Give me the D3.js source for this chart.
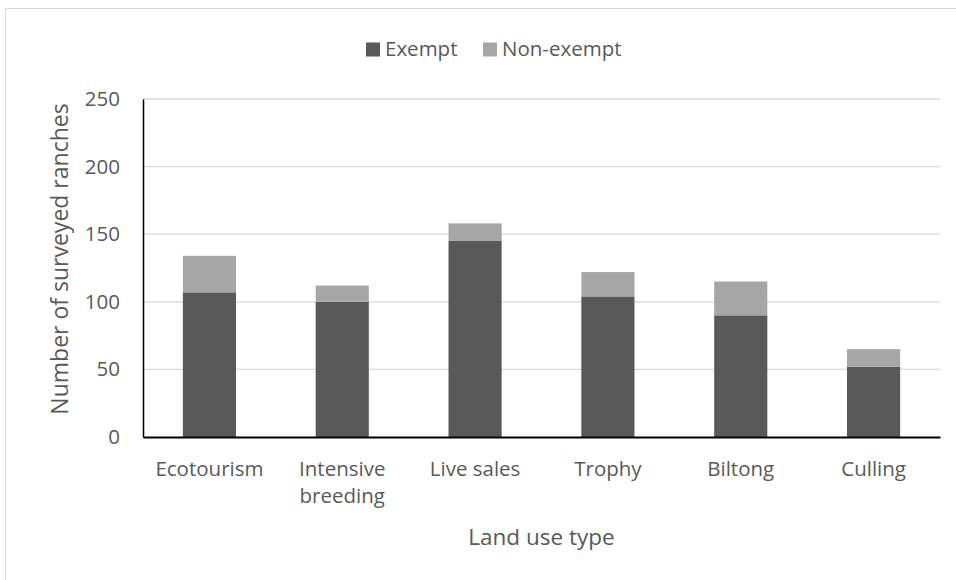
<!DOCTYPE html>
<html><head><meta charset="utf-8">
<script src="https://cdn.jsdelivr.net/npm/d3@7"></script>
<style>body{margin:0;background:#fff}svg{display:block}text{font-family:"Open Sans",sans-serif;fill:#595959}</style>
</head><body><svg id="c" width="956" height="580"></svg>
<script>
const categories = [["Ecotourism"],["Intensive","breeding"],["Live sales"],["Trophy"],["Biltong"],["Culling"]];
const exempt = [107, 100, 145, 104, 90, 52];
const nonExempt = [27, 12, 13, 18, 25, 13];
const seriesNames = ["Exempt","Non-exempt"];
const colors = ["#595959","#a6a6a6"];
const yTicks = [0,50,100,150,200,250];

const FONT = "'Open Sans',sans-serif";
const svg = d3.select("#c");
svg.append("rect").attr("x",5.5).attr("y",8.5).attr("width",960).attr("height",600).attr("fill","none").attr("stroke","#d9d9d9");

const m = {l:143, r:940, t:99, b:437};
const names = categories.map(c=>c.join(" "));
const x = d3.scaleBand().domain(names).range([m.l,m.r]).paddingInner(0.6).paddingOuter(0.3);
const y = d3.scaleLinear().domain([0,250]).range([m.b,m.t]);

svg.append("g").selectAll("line").data(yTicks.filter(d=>d>0)).join("line")
  .attr("x1",m.l).attr("x2",m.r).attr("y1",d=>y(d)).attr("y2",d=>y(d))
  .attr("stroke","#d9d9d9").attr("stroke-width",1.3);

const data = names.map((n,i)=>({name:n, Exempt:exempt[i], "Non-exempt":nonExempt[i]}));
const stack = d3.stack().keys(seriesNames)(data);
svg.append("g").selectAll("g").data(stack).join("g").attr("fill",(d,i)=>colors[i])
  .selectAll("rect").data(d=>d).join("rect")
  .attr("x",d=>x(d.data.name)).attr("width",x.bandwidth())
  .attr("y",d=>y(d[1])).attr("height",d=>y(d[0])-y(d[1]));

const ya = svg.append("g").attr("transform",`translate(${m.l},0)`).call(d3.axisLeft(y).tickValues(yTicks).tickSize(0).tickPadding(23));
ya.select(".domain").attr("stroke","#000").attr("stroke-width",1.5);
ya.selectAll("text").attr("font-size",20.5).style("font-family",FONT).attr("fill","#595959");

const xa = svg.append("g").attr("transform",`translate(0,${m.b})`).call(d3.axisBottom(x).tickSize(0).tickFormat(""));
xa.select(".domain").attr("stroke","#000").attr("stroke-width",2);

svg.append("g").selectAll("text").data(categories).join("text")
  .attr("text-anchor","middle").attr("font-size",20.5)
  .attr("x",(d,i)=>x(names[i])+x.bandwidth()/2).attr("y",476)
  .selectAll("tspan").data(d=>d).join("tspan")
  .attr("x",function(){return this.parentNode.getAttribute("x");})
  .attr("dy",(d,j)=>j?27:0).text(d=>d);

svg.append("text").attr("text-anchor","middle").attr("font-size",22.5)
  .attr("x",(m.l+m.r)/2).attr("y",545).text("Land use type");
svg.append("text").attr("text-anchor","middle").attr("font-size",23)
  .attr("transform","translate(68,259) rotate(-90)").text("Number of surveyed ranches");

const lg = svg.append("g");
const lx = [366, 483];
seriesNames.forEach((s,i)=>{
  lg.append("rect").attr("x",lx[i]).attr("y",42.5).attr("width",14).attr("height",14).attr("fill",colors[i]);
  lg.append("text").attr("x",lx[i]+19).attr("y",55.5).attr("font-size",20.5).text(s);
});
</script></body></html>
